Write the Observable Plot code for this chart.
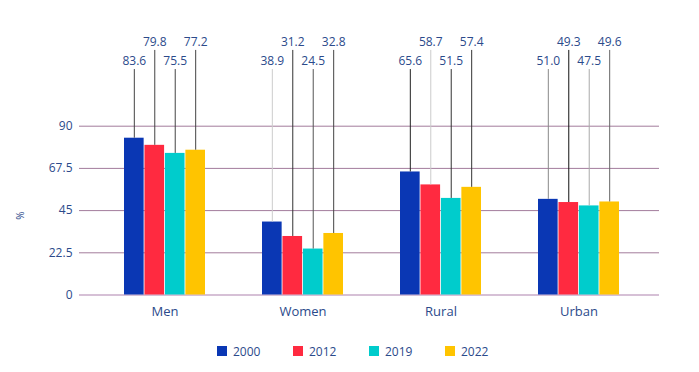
<!DOCTYPE html>
<html>
<head>
<meta charset="utf-8">
<script src="https://cdn.jsdelivr.net/npm/d3@7"></script>
<script src="https://cdn.jsdelivr.net/npm/@observablehq/plot@0.6"></script>
<style>
  html, body { margin: 0; padding: 0; background: #fff; }
  body { width: 699px; height: 372px; overflow: hidden; font-family: "Open Sans", sans-serif; }
  #legend { position: relative; height: 40px; }
  .item { position: absolute; top: 9px; height: 20px; display: flex; align-items: center; font-size: 12px; color: #2b4a8b; }
  .sw { width: 10px; height: 10px; margin-right: 6px; }
</style>
</head>
<body>
<div id="chart"></div>
<div id="legend"></div>
<script>
const categories = ["Men", "Women", "Rural", "Urban"];
const years = ["2000", "2012", "2019", "2022"];
const v2000 = [83.6, 38.9, 65.6, 51.0];
const v2012 = [79.8, 31.2, 58.7, 49.3];
const v2019 = [75.5, 24.5, 51.5, 47.5];
const v2022 = [77.2, 32.8, 57.4, 49.6];
const yTicks = [0, 22.5, 45, 67.5, 90];

const series = [v2000, v2012, v2019, v2022];
const colors = ["#0a37b4", "#ff2a40", "#00cccc", "#ffc400"];
// leader line colours, per category (rows) and year (columns)
const leaderColors = [
  ["#444", "#444", "#444", "#444"],
  ["#ccc", "#333", "#555", "#444"],
  ["#222", "#ccc", "#333", "#333"],
  ["#888", "#111", "#aaa", "#666"]
];
const textColor = "#2b4a8b";

const rangeX = [94.65, 649.35];
const pad = 0.41;
const step = (rangeX[1] - rangeX[0]) / categories.length;
const bw = step * (1 - pad);
const q = bw / 4;

// label levels (in y units) for the two staggered rows
const lineTop = [120.2, 130.4];
const textLevel = [124.5, 134.9];

const marks = [
  Plot.ruleY(yTicks.filter(d => d > 0), {stroke: "#a37c9c", strokeWidth: 1}),
  Plot.ruleY([0], {stroke: "#d6c0d6", strokeWidth: 2})
];

series.forEach((vals, i) => {
  const rows = categories.map((c, j) => ({category: c, value: vals[j], line: leaderColors[j][i]}));
  const off = (i - 1.5) * q;
  const lvl = i % 2;
  marks.push(
    Plot.barY(rows, {x: "category", y: "value", fill: colors[i], insetLeft: i * q, insetRight: (3 - i) * q}),
    Plot.ruleX(rows, {x: "category", y1: "value", y2: () => lineTop[lvl], dx: off, stroke: "line", strokeWidth: 1}),
    Plot.text(rows, {x: "category", y: () => textLevel[lvl], dx: off, text: d => d.value.toFixed(1), fill: textColor, fontSize: 12})
  );
});

marks.push(
  Plot.axisY({ticks: yTicks, tickSize: 0, tickPadding: 7, label: null, fontSize: 12, color: textColor, tickFormat: d => String(d)}),
  Plot.axisX({tickSize: 0, tickPadding: 12, label: null, fontSize: 13, color: textColor}),
  Plot.text(["%"], {frameAnchor: "left", dx: -59, dy: 57, rotate: -90, fill: textColor, fontSize: 10})
);

const chart = Plot.plot({
  width: 699,
  height: 332,
  marginLeft: 79,
  marginRight: 40,
  marginTop: 30,
  marginBottom: 37.5,
  style: {fontFamily: "Open Sans", background: "#fff", color: textColor},
  x: {domain: categories, range: rangeX, paddingInner: pad, paddingOuter: pad / 2},
  y: {domain: [0, 90], range: [294.5, 125.7]},
  marks
});
document.getElementById("chart").appendChild(chart);

const legend = document.getElementById("legend");
years.forEach((y, i) => {
  const item = document.createElement("div");
  item.className = "item";
  item.style.left = (217 + i * 76) + "px";
  const sw = document.createElement("span");
  sw.className = "sw";
  sw.style.background = colors[i];
  const lab = document.createElement("span");
  lab.textContent = y;
  item.appendChild(sw);
  item.appendChild(lab);
  legend.appendChild(item);
});
</script>
</body>
</html>
